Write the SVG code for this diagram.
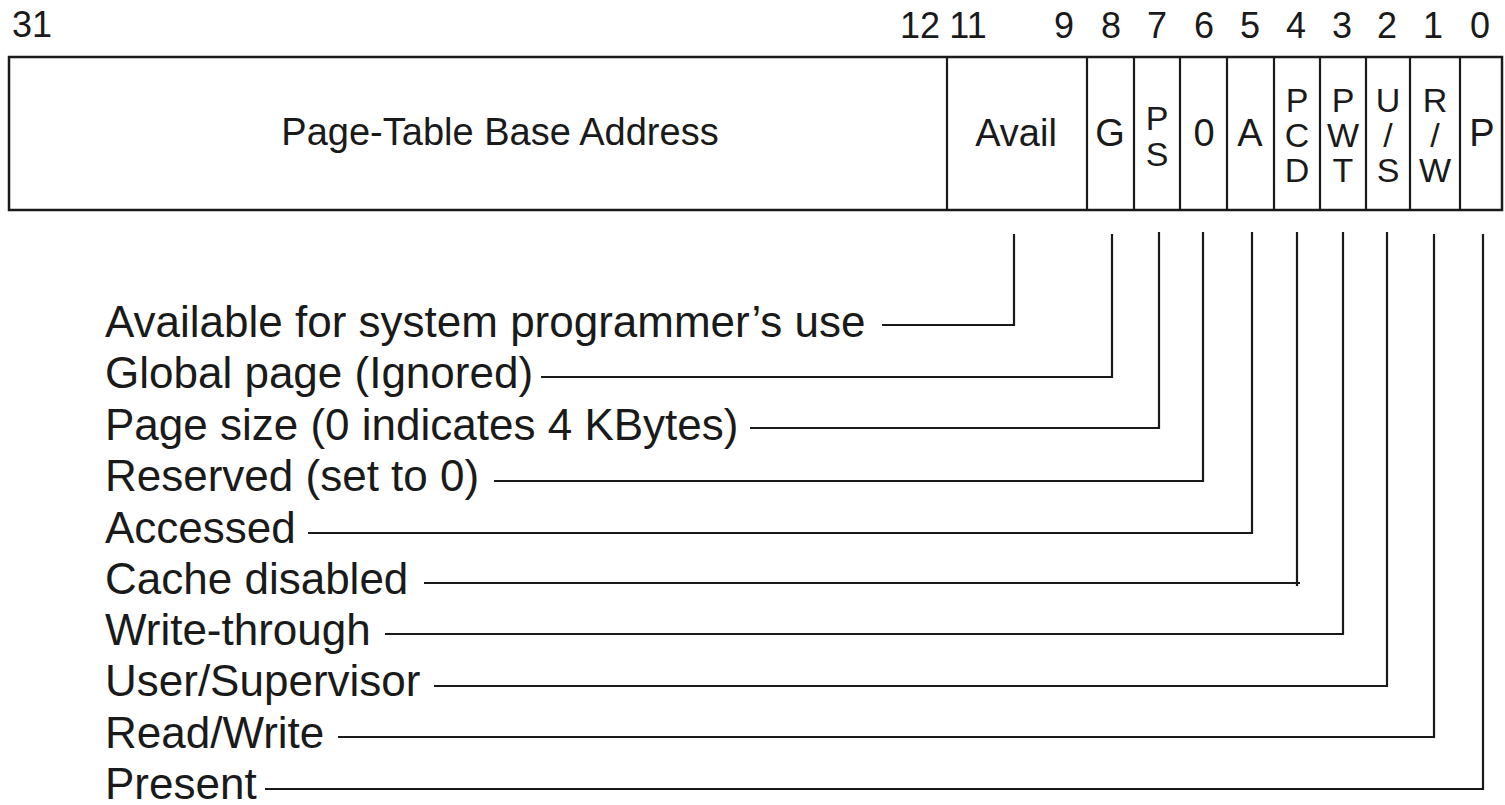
<svg xmlns="http://www.w3.org/2000/svg" width="1505" height="805" viewBox="0 0 1505 805">
<style>
text{font-family:"Liberation Sans",Arial,sans-serif;fill:#1a1a1a}
.bit{font-size:36px;text-anchor:middle}
.cell{font-size:38px;text-anchor:middle}
.stk{font-size:34px;text-anchor:middle}
.lbl{font-size:44px}
.box{fill:#fff;stroke:#1a1a1a;stroke-width:2.5}
.div{stroke:#1a1a1a;stroke-width:2.2}
.conn path{fill:none;stroke:#1a1a1a;stroke-width:2.2}
</style>
<rect width="1505" height="805" fill="#fff"/>
<g id="bit-numbers">
<text x="12" y="37" font-size="36">31</text>
<text class="bit" x="920" y="38">12</text>
<text class="bit" x="968" y="38">11</text>
<text class="bit" x="1064" y="38">9</text>
<text class="bit" x="1111" y="38">8</text>
<text class="bit" x="1157" y="38">7</text>
<text class="bit" x="1204" y="38">6</text>
<text class="bit" x="1250" y="38">5</text>
<text class="bit" x="1296" y="38">4</text>
<text class="bit" x="1342" y="38">3</text>
<text class="bit" x="1387" y="38">2</text>
<text class="bit" x="1433" y="38">1</text>
<text class="bit" x="1480" y="38">0</text>
</g>
<g id="register">
<rect class="box" x="9" y="57" width="1493" height="153"/>
<line class="div" x1="947" y1="57" x2="947" y2="210"/>
<line class="div" x1="1087" y1="57" x2="1087" y2="210"/>
<line class="div" x1="1134" y1="57" x2="1134" y2="210"/>
<line class="div" x1="1180" y1="57" x2="1180" y2="210"/>
<line class="div" x1="1227" y1="57" x2="1227" y2="210"/>
<line class="div" x1="1274" y1="57" x2="1274" y2="210"/>
<line class="div" x1="1320" y1="57" x2="1320" y2="210"/>
<line class="div" x1="1366" y1="57" x2="1366" y2="210"/>
<line class="div" x1="1410" y1="57" x2="1410" y2="210"/>
<line class="div" x1="1460" y1="57" x2="1460" y2="210"/>
</g>
<g id="field-base"><text class="cell" x="500" y="145" font-size="38.5">Page-Table Base Address</text></g>
<g id="field-avail"><text class="cell" x="1016" y="146">Avail</text></g>
<g id="field-g"><text class="cell" x="1110" y="146">G</text></g>
<g id="field-ps"><text class="stk" x="1157" y="130">P</text><text class="stk" x="1157" y="166">S</text></g>
<g id="field-0"><text class="cell" x="1204" y="146">0</text></g>
<g id="field-a"><text class="cell" x="1250" y="146">A</text></g>
<g id="field-pcd"><text class="stk" x="1297" y="112">P</text><text class="stk" x="1297" y="147">C</text><text class="stk" x="1297" y="182">D</text></g>
<g id="field-pwt"><text class="stk" x="1343" y="112">P</text><text class="stk" x="1343" y="147">W</text><text class="stk" x="1343" y="182">T</text></g>
<g id="field-us"><text class="stk" x="1388" y="112">U</text><text class="stk" x="1388" y="147">/</text><text class="stk" x="1388" y="182">S</text></g>
<g id="field-rw"><text class="stk" x="1435" y="112">R</text><text class="stk" x="1435" y="147">/</text><text class="stk" x="1435" y="182">W</text></g>
<g id="field-p"><text class="cell" x="1482" y="146">P</text></g>
<g id="labels">
<text class="lbl" x="105" y="337">Available for system programmer’s use</text>
<text class="lbl" x="105" y="388">Global page (Ignored)</text>
<text class="lbl" x="105" y="440">Page size (0 indicates 4 KBytes)</text>
<text class="lbl" x="105" y="491">Reserved (set to 0)</text>
<text class="lbl" x="105" y="543">Accessed</text>
<text class="lbl" x="105" y="594">Cache disabled</text>
<text class="lbl" x="105" y="645">Write-through</text>
<text class="lbl" x="105" y="696">User/Supervisor</text>
<text class="lbl" x="105" y="748">Read/Write</text>
<text class="lbl" x="105" y="799">Present</text>
</g>
<g id="connectors" class="conn">
<path d="M882,325 H1014 V234"/>
<path d="M541,377 H1112 V234"/>
<path d="M750,428 H1159 V232"/>
<path d="M494,481 H1203 V232"/>
<path d="M308,533 H1252 V232"/>
<path d="M424,583 H1300 M1297,232 V586"/>
<path d="M385,634 H1343 V232"/>
<path d="M434,686 H1387 V232"/>
<path d="M338,737 H1434 V234"/>
<path d="M265,789 H1483 V234"/>
</g>
</svg>
